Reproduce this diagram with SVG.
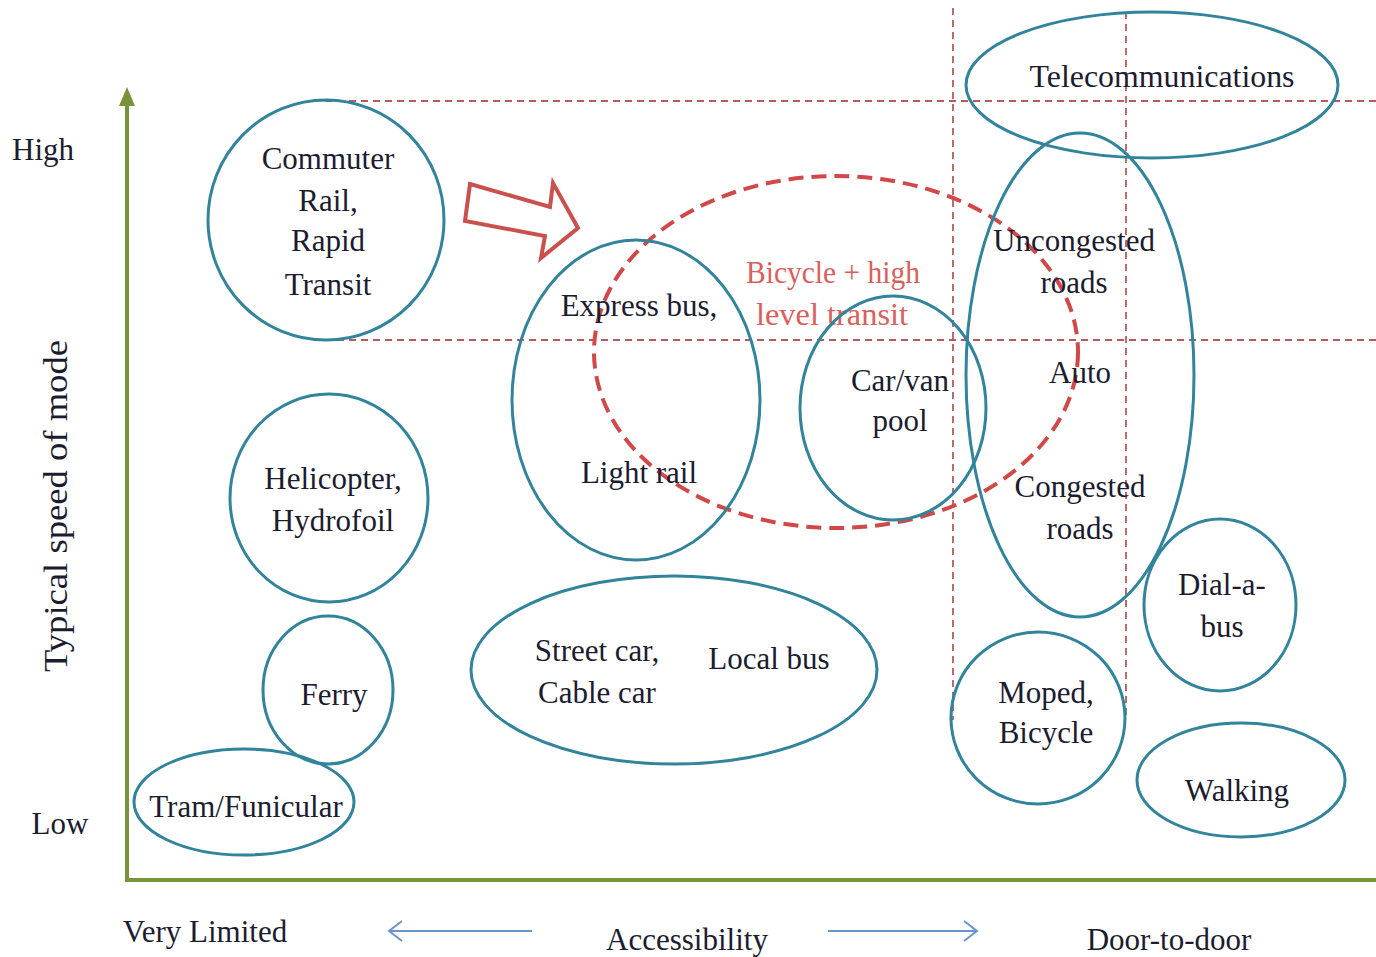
<svg xmlns="http://www.w3.org/2000/svg" width="1376" height="957" viewBox="0 0 1376 957">
<style>
.n{fill:none;stroke:#31849B;stroke-width:3}
.t{font-family:"Liberation Serif",serif;font-size:31px;fill:#1c1c30;text-anchor:middle}
.g{stroke:#B85A5C;stroke-width:1.8;stroke-dasharray:7 5;fill:none}
.ax{stroke:#77933C;stroke-width:4;fill:none}
.b{stroke:#6A95CC;stroke-width:2;fill:none}
</style>
<rect width="1376" height="957" fill="#fff"/>
<g id="grid">
<line class="g" x1="325" y1="101" x2="1376" y2="101"/>
<line class="g" x1="325" y1="340" x2="1376" y2="340"/>
<line class="g" x1="953" y1="8" x2="953" y2="720"/>
<line class="g" x1="1126" y1="12" x2="1126" y2="720"/>
</g>
<g id="axes">
<polyline class="ax" points="127,102 127,880 1376,880"/>
<polygon points="127,87 119,106 135,106" fill="#77933C"/>
<text class="t" x="43" y="160">High</text>
<text class="t" x="60" y="834">Low</text>
<text class="t" transform="translate(67,506) rotate(-90)" style="font-size:34px" textLength="332" lengthAdjust="spacingAndGlyphs">Typical speed of mode</text>
<text class="t" x="205" y="942">Very Limited</text>
<text class="t" x="687" y="950">Accessibility</text>
<text class="t" x="1169" y="950">Door-to-door</text>
<line class="b" x1="532" y1="931" x2="390" y2="931"/>
<polyline class="b" points="402,921 389,931 402,941"/>
<line class="b" x1="828" y1="931" x2="976" y2="931"/>
<polyline class="b" points="964,921 977,931 964,941"/>
</g>
<g id="highlight">
<ellipse cx="836" cy="352" rx="242" ry="176" fill="none" stroke="#D04848" stroke-width="4" stroke-dasharray="15 8"/>
<polygon points="470,184 550,207 553,183 578,228 541,258 545,236 465,221" fill="none" stroke="#C9504D" stroke-width="4" stroke-linejoin="miter"/>
<text class="t" x="833" y="283" style="fill:#D9605C" textLength="174" lengthAdjust="spacingAndGlyphs">Bicycle + high</text>
<text class="t" x="832" y="325" style="fill:#D9605C" textLength="152" lengthAdjust="spacingAndGlyphs">level transit</text>
</g>
<g id="commuter"><ellipse class="n" cx="326" cy="220" rx="118" ry="120"/>
<text class="t" x="328" y="169">Commuter</text><text class="t" x="328" y="211">Rail,</text><text class="t" x="328" y="251">Rapid</text><text class="t" x="328" y="295">Transit</text></g>
<g id="helicopter"><ellipse class="n" cx="329" cy="498" rx="99" ry="104"/>
<text class="t" x="333" y="489">Helicopter,</text><text class="t" x="333" y="531">Hydrofoil</text></g>
<g id="ferry"><ellipse class="n" cx="328" cy="690" rx="65" ry="74"/>
<text class="t" x="334" y="705">Ferry</text></g>
<g id="tram"><ellipse class="n" cx="244" cy="802" rx="110" ry="53"/>
<text class="t" x="246" y="817">Tram/Funicular</text></g>
<g id="express"><ellipse class="n" cx="636" cy="400" rx="124" ry="160"/>
<text class="t" x="639" y="316">Express bus,</text><text class="t" x="639" y="483">Light rail</text></g>
<g id="streetcar"><ellipse class="n" cx="674" cy="670" rx="203" ry="94"/>
<text class="t" x="597" y="661">Street car,</text><text class="t" x="597" y="703">Cable car</text><text class="t" x="769" y="669">Local bus</text></g>
<g id="carpool"><ellipse class="n" cx="893" cy="408" rx="93" ry="112"/>
<text class="t" x="900" y="391">Car/van</text><text class="t" x="900" y="431">pool</text></g>
<g id="telecom"><ellipse class="n" cx="1152" cy="85" rx="186" ry="73"/>
<text class="t" x="1162" y="87" textLength="265" lengthAdjust="spacingAndGlyphs">Telecommunications</text></g>
<g id="auto"><ellipse class="n" cx="1080" cy="375" rx="114" ry="242"/>
<text class="t" x="1074" y="251">Uncongested</text><text class="t" x="1074" y="293">roads</text><text class="t" x="1080" y="383">Auto</text><text class="t" x="1080" y="497">Congested</text><text class="t" x="1080" y="539">roads</text></g>
<g id="dialabus"><ellipse class="n" cx="1220" cy="605" rx="76" ry="86"/>
<text class="t" x="1222" y="595">Dial-a-</text><text class="t" x="1222" y="637">bus</text></g>
<g id="moped"><ellipse class="n" cx="1038" cy="718" rx="87" ry="86"/>
<text class="t" x="1046" y="703">Moped,</text><text class="t" x="1046" y="743">Bicycle</text></g>
<g id="walking"><ellipse class="n" cx="1241" cy="780" rx="104" ry="57"/>
<text class="t" x="1237" y="801">Walking</text></g>
</svg>
